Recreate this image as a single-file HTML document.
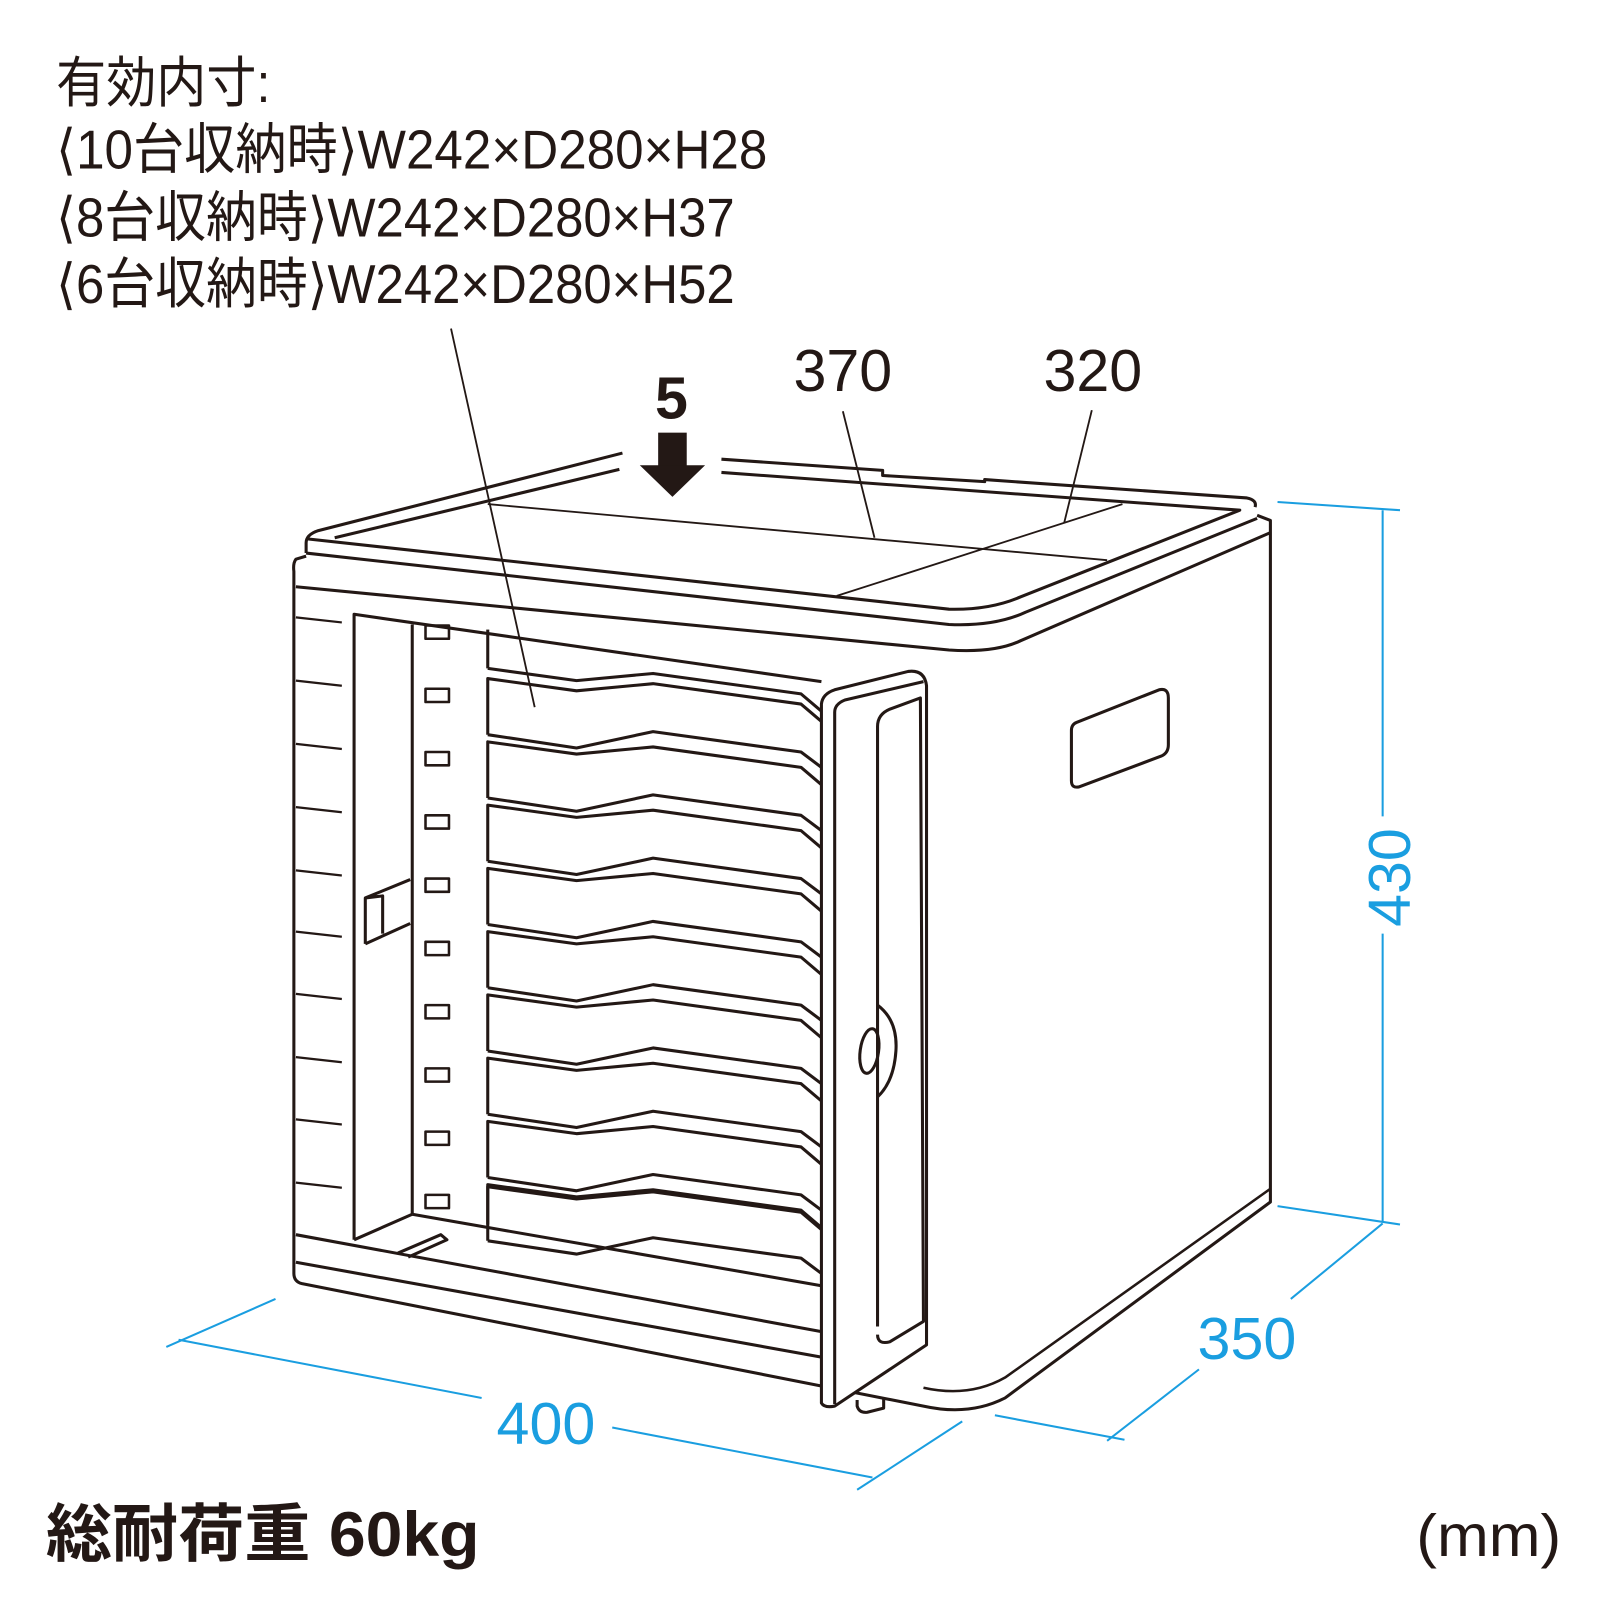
<!DOCTYPE html>
<html><head><meta charset="utf-8"><style>
html,body{margin:0;padding:0;background:#fff;}
svg{display:block}
text{font-family:"Liberation Sans","Noto Sans CJK JP",sans-serif;}
</style></head><body>
<svg width="1600" height="1600" viewBox="0 0 1600 1600" xmlns="http://www.w3.org/2000/svg">
<g transform="scale(1.0204)">
<g fill="#231815" font-size="54">
<text x="55" y="100" textLength="210" lengthAdjust="spacingAndGlyphs">有効内寸:</text>
<text x="55" y="165" textLength="697" lengthAdjust="spacingAndGlyphs"><tspan font-family="DejaVu Sans">⟨</tspan>10台収納時<tspan font-family="DejaVu Sans">⟩</tspan>W242×D280×H28</text>
<text x="55" y="232" textLength="665" lengthAdjust="spacingAndGlyphs"><tspan font-family="DejaVu Sans">⟨</tspan>8台収納時<tspan font-family="DejaVu Sans">⟩</tspan>W242×D280×H37</text>
<text x="55" y="297" textLength="665" lengthAdjust="spacingAndGlyphs"><tspan font-family="DejaVu Sans">⟨</tspan>6台収納時<tspan font-family="DejaVu Sans">⟩</tspan>W242×D280×H52</text>
<text x="658" y="410" font-size="58" font-weight="bold" text-anchor="middle">5</text>
<text x="826" y="383" font-size="58" text-anchor="middle">370</text>
<text x="1071" y="383" font-size="58" text-anchor="middle">320</text>
<text x="45" y="1525" font-size="62" font-weight="bold" textLength="425" lengthAdjust="spacingAndGlyphs">総耐荷重 60kg</text>
<text x="1388" y="1525" font-size="58" textLength="142" lengthAdjust="spacingAndGlyphs">(mm)</text>
</g>
<rect x="645" y="424" width="28" height="34" fill="#231815"/>
<polygon points="627,456 691,456 659,487" fill="#231815"/>
<g stroke="#231815" stroke-width="1.8" fill="none">
<line x1="442" y1="322" x2="524" y2="693"/>
<line x1="826" y1="403" x2="857" y2="527"/>
<line x1="1070" y1="402" x2="1043" y2="512"/>
<line x1="478" y1="494" x2="1085" y2="549"/>
<line x1="820" y1="584" x2="1100" y2="494"/>
</g>
<g stroke="#1a9ee0" stroke-width="2" fill="none">
<line x1="1252" y1="492" x2="1372" y2="500"/>
<line x1="1252" y1="1182" x2="1372" y2="1200"/>
<line x1="1355" y1="500" x2="1355" y2="800"/>
<line x1="1355" y1="915" x2="1355" y2="1198"/>
<line x1="270" y1="1273" x2="163" y2="1320"/>
<line x1="943" y1="1393" x2="840" y2="1460"/>
<line x1="175" y1="1313" x2="472" y2="1370"/>
<line x1="600" y1="1399" x2="855" y2="1448"/>
<line x1="975" y1="1387" x2="1102" y2="1411"/>
<line x1="1355" y1="1199" x2="1265" y2="1273"/>
<line x1="1175" y1="1342" x2="1085" y2="1412"/>
</g>
<g fill="#1a9ee0" font-size="58">
<text x="535" y="1415" text-anchor="middle">400</text>
<text x="1222" y="1332" text-anchor="middle">350</text>
<text transform="translate(1382,860) rotate(-90)" text-anchor="middle">430</text>
</g>
<g stroke="#231815" stroke-width="3" fill="none" stroke-linejoin="round">
<path d="M610,444 L312,520 Q300,524 300,532 L300,542"/>
<path d="M607,460 L328,527"/>
<path d="M707,450 L865,461 L865,466 L965,472 L965,470 L1222,488 Q1232,490 1230,497"/>
<path d="M707,463 L1215,500 L1000,585 Q970,598 930,597 L300,528"/>
<path d="M300,542 L930,612 Q975,614 1005,600 L1232,508"/>
<path d="M300,545 L290,548 Q287,552 288,560 L288,1248 Q288,1256 296,1258 L905,1378 Q950,1388 985,1370 L1245,1178 L1245,510 L1232,505"/>
<path d="M290,575 L930,637 Q975,640 1000,628 L1245,522"/>
<path d="M290,1237 L805,1330"/>
<path d="M290,1210 L805,1305"/>
<path d="M905,1360 Q950,1370 985,1350 L1245,1165" stroke-width="2.5"/>
<g stroke-width="2.2">
<line x1="290" y1="605" x2="335" y2="610"/><line x1="290" y1="667" x2="335" y2="672"/>
<line x1="290" y1="729" x2="335" y2="734"/><line x1="290" y1="791" x2="335" y2="796"/>
<line x1="290" y1="853" x2="335" y2="858"/><line x1="290" y1="913" x2="335" y2="918"/>
<line x1="290" y1="974" x2="335" y2="979"/><line x1="290" y1="1036" x2="335" y2="1041"/>
<line x1="290" y1="1097" x2="335" y2="1102"/><line x1="290" y1="1159" x2="335" y2="1164"/>
</g>
<path d="M347,1215 L347,602 L805,668"/>
<line x1="404" y1="612" x2="404" y2="1190"/>
<line x1="347" y1="1215" x2="404" y2="1190"/>
<path d="M404,1190 L805,1260"/>
<path d="M390,1228 L432,1210 L438,1215 L400,1232"/>
<path d="M358,925 L358,880 L402,862 M358,880 L375,878 L375,915 M358,925 L402,905"/>
<line x1="478" y1="617" x2="478" y2="655"/>
<g stroke-width="2.5">
<rect x="417" y="613" width="23" height="13"/><rect x="417" y="675" width="23" height="13"/>
<rect x="417" y="737" width="23" height="13"/><rect x="417" y="799" width="23" height="13"/>
<rect x="417" y="861" width="23" height="13"/><rect x="417" y="923" width="23" height="13"/>
<rect x="417" y="985" width="23" height="13"/><rect x="417" y="1047" width="23" height="13"/>
<rect x="417" y="1109" width="23" height="13"/><rect x="417" y="1171" width="23" height="13"/>
</g>
<path d="M478,655 L565,667 L640,660 L785,680 L805,697"/>
<g id="sh">
<path d="M478,720 L478,665 L565,677 L640,670 L785,690 L805,707"/>
<path d="M478,720 L565,733 L640,717 L785,737 L805,752"/>
</g>
<use href="#sh" y="62"/><use href="#sh" y="124"/><use href="#sh" y="186"/>
<use href="#sh" y="248"/><use href="#sh" y="310"/><use href="#sh" y="372"/>
<use href="#sh" y="434"/><use href="#sh" y="496"/>
<path d="M478,1200 L478,1163 L565,1175 L640,1168 L785,1188 L805,1205"/>
<path d="M805,1375 L805,690 Q806,680 818,676 L890,658 Q906,656 908,672 L908,1318 L818,1378 Q808,1380 805,1375 Z" fill="#fff"/>
<path d="M818,1376 L818,698 Q818,690 828,686 L905,668"/>
<path d="M860,1300 L860,712 Q860,700 872,695 L902,684 L905,1295 L872,1315 Q860,1318 860,1308"/>
<path d="M860,985 Q880,1000 878,1030 Q876,1060 860,1075"/>
<ellipse cx="852" cy="1030" rx="9" ry="22" transform="rotate(8 852 1030)"/>
<path d="M840,1372 L840,1378 Q842,1385 850,1384 L866,1380 L866,1370"/>
<path d="M1055,708 L1136,676 Q1145,674 1145,684 L1145,730 Q1145,738 1138,741 L1058,771 Q1050,773 1050,765 L1050,716 Q1050,710 1055,708 Z"/>
</g>
</g>
</svg>
</body></html>
